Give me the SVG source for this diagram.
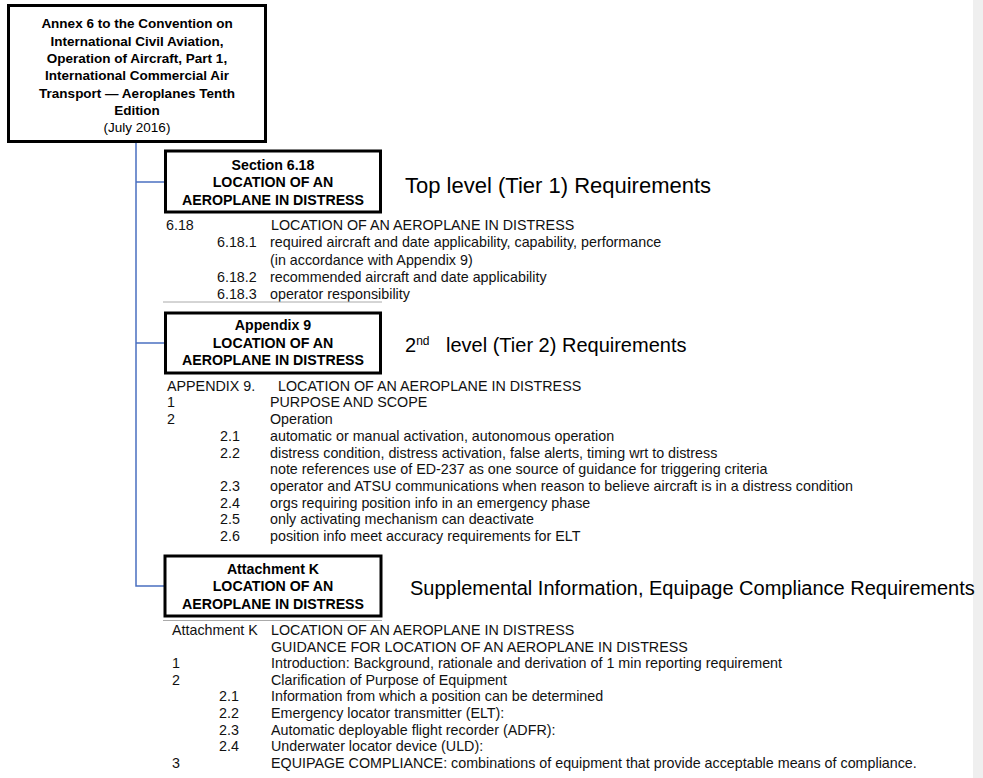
<svg xmlns="http://www.w3.org/2000/svg" width="983" height="778" viewBox="0 0 983 778">
<style>
.box{fill:#fff;stroke:#000;stroke-width:3}
.bt{font-family:"Liberation Sans",Arial,sans-serif;font-size:13.5px;font-weight:bold;text-anchor:middle;fill:#000}
.bs{font-size:14.2px}
.br{font-family:"Liberation Sans",Arial,sans-serif;font-size:13.5px;text-anchor:middle;fill:#000}
.t{font-family:"Liberation Sans",Arial,sans-serif;font-size:14.3px;fill:#111}
.tier{font-family:"Liberation Sans",Arial,sans-serif;font-size:20px;fill:#000}
.big{font-size:22px}
.sup{font-size:12px}
.conn{stroke:#4a6fc0;stroke-width:1.5;fill:none}
.sep{stroke:#aaa;stroke-width:1}
</style>
<rect x="0" y="0" width="983" height="778" fill="#fff"/>
<rect x="973" y="0" width="10" height="778" fill="#efefef"/>

<g id="connectors">
<path class="conn" d="M136,142 V586 H164"/>
<path class="conn" d="M136,182 H164"/>
<path class="conn" d="M136,343 H164"/>
</g>

<g id="annex6">
<rect class="box" x="8.5" y="5.5" width="257" height="136"/>
<text class="bt" x="137" y="28.3">Annex 6 to the Convention on</text>
<text class="bt" x="137" y="45.6">International Civil Aviation,</text>
<text class="bt" x="137" y="62.9">Operation of Aircraft, Part 1,</text>
<text class="bt" x="137" y="80.2">International Commercial Air</text>
<text class="bt" x="137" y="97.5">Transport — Aeroplanes Tenth</text>
<text class="bt" x="137" y="114.8">Edition</text>
<text class="br" x="137" y="132.1">(July 2016)</text>
</g>

<g id="section618">
<rect class="box" x="165.5" y="151" width="215" height="61"/>
<text class="bt bs" x="273" y="169.5">Section 6.18</text>
<text class="bt bs" x="273" y="187">LOCATION OF AN</text>
<text class="bt bs" x="273" y="204.5">AEROPLANE IN DISTRESS</text>
<text class="tier big" x="405" y="193">Top level (Tier 1) Requirements</text>
</g>

<g id="section618-text">
<text class="t" x="166" y="229.7">6.18</text>
<text class="t" x="271" y="229.7">LOCATION OF AN AEROPLANE IN DISTRESS</text>
<text class="t" x="217" y="247">6.18.1</text>
<text class="t" x="270" y="247">required aircraft and date applicability, capability, performance</text>
<text class="t" x="270" y="264.5">(in accordance with Appendix 9)</text>
<text class="t" x="217" y="282">6.18.2</text>
<text class="t" x="270" y="282">recommended aircraft and date applicability</text>
<text class="t" x="217" y="299.3">6.18.3</text>
<text class="t" x="270" y="299.3">operator responsibility</text>
<line class="sep" x1="163" y1="302" x2="382" y2="302"/>
</g>

<g id="appendix9">
<rect class="box" x="165.5" y="313" width="215" height="60"/>
<text class="bt bs" x="273" y="330">Appendix 9</text>
<text class="bt bs" x="273" y="347.5">LOCATION OF AN</text>
<text class="bt bs" x="273" y="365">AEROPLANE IN DISTRESS</text>
<text class="tier" x="405" y="352"><tspan>2</tspan><tspan class="sup" dy="-7">nd</tspan><tspan x="446" dy="7">level (Tier 2) Requirements</tspan></text>
</g>

<g id="appendix9-text">
<text class="t" x="167" y="390.7">APPENDIX 9.</text>
<text class="t" x="278" y="390.7">LOCATION OF AN AEROPLANE IN DISTRESS</text>
<text class="t" x="167" y="407.4">1</text>
<text class="t" x="270" y="407.4">PURPOSE AND SCOPE</text>
<text class="t" x="167" y="424.1">2</text>
<text class="t" x="270" y="424.1">Operation</text>
<text class="t" x="220" y="440.8">2.1</text>
<text class="t" x="270" y="440.8">automatic or manual activation, autonomous operation</text>
<text class="t" x="220" y="457.5">2.2</text>
<text class="t" x="270" y="457.5">distress condition, distress activation, false alerts, timing wrt to distress</text>
<text class="t" x="270" y="474.2">note references use of ED-237 as one source of guidance for triggering criteria</text>
<text class="t" x="220" y="490.9">2.3</text>
<text class="t" x="270" y="490.9">operator and ATSU communications when reason to believe aircraft is in a distress condition</text>
<text class="t" x="220" y="507.6">2.4</text>
<text class="t" x="270" y="507.6">orgs requiring position info in an emergency phase</text>
<text class="t" x="220" y="524.3">2.5</text>
<text class="t" x="270" y="524.3">only activating mechanism can deactivate</text>
<text class="t" x="220" y="541">2.6</text>
<text class="t" x="270" y="541">position info meet accuracy requirements for ELT</text>
</g>

<g id="attachmentK">
<rect class="box" x="165" y="556" width="216" height="60"/>
<text class="bt bs" x="273" y="573.5">Attachment K</text>
<text class="bt bs" x="273" y="591">LOCATION OF AN</text>
<text class="bt bs" x="273" y="608.5">AEROPLANE IN DISTRESS</text>
<text class="tier" x="410" y="595">Supplemental Information, Equipage Compliance Requirements</text>
</g>

<g id="attachmentK-text">
<line class="sep" x1="163" y1="620.5" x2="382" y2="620.5"/>
<text class="t" x="172" y="635">Attachment K</text>
<text class="t" x="271" y="635">LOCATION OF AN AEROPLANE IN DISTRESS</text>
<text class="t" x="271" y="651.6">GUIDANCE FOR LOCATION OF AN AEROPLANE IN DISTRESS</text>
<text class="t" x="172" y="668.2">1</text>
<text class="t" x="271" y="668.2">Introduction: Background, rationale and derivation of 1 min reporting requirement</text>
<text class="t" x="172" y="684.8">2</text>
<text class="t" x="271" y="684.8">Clarification of Purpose of Equipment</text>
<text class="t" x="219" y="701.4">2.1</text>
<text class="t" x="271" y="701.4">Information from which a position can be determined</text>
<text class="t" x="219" y="718">2.2</text>
<text class="t" x="271" y="718">Emergency locator transmitter (ELT):</text>
<text class="t" x="219" y="734.6">2.3</text>
<text class="t" x="271" y="734.6">Automatic deployable flight recorder (ADFR):</text>
<text class="t" x="219" y="751.2">2.4</text>
<text class="t" x="271" y="751.2">Underwater locator device (ULD):</text>
<text class="t" x="172" y="767.8">3</text>
<text class="t" x="271" y="767.8">EQUIPAGE COMPLIANCE: combinations of equipment that provide acceptable means of compliance.</text>
</g>
</svg>
